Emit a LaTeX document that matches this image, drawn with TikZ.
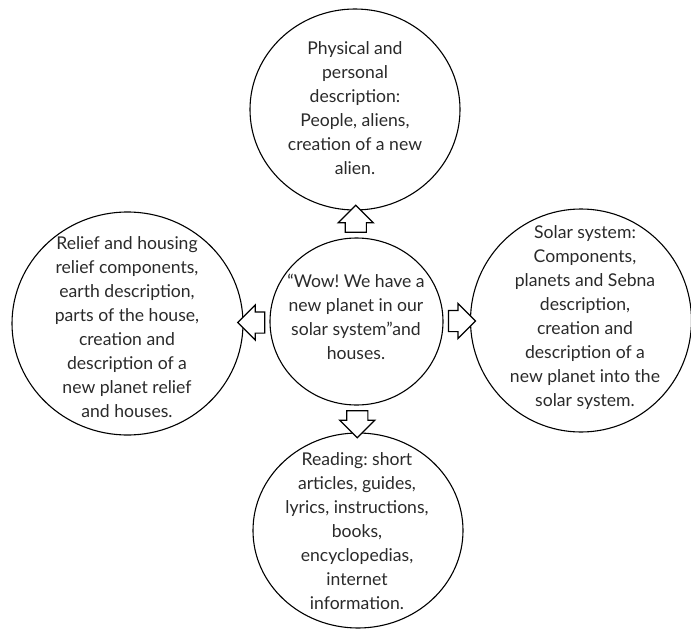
\documentclass[tikz,border=0pt]{standalone}
\usepackage{fontspec}
\setmainfont{Lato}
\frenchspacing
\usetikzlibrary{shapes.geometric,shapes.arrows,calc}
\definecolor{txt}{HTML}{2A2A2A}
\begin{document}
\begin{tikzpicture}[x=1pt,y=-1pt,
  bubble/.style={ellipse,draw=black,line width=1.1pt,inner sep=0pt},
  label/.style={align=center,text=txt,inner sep=0pt,font=\fontsize{17.6}{24}\selectfont},
  blockarrow/.style={single arrow,draw=black,line width=1.2pt,fill=white,
    inner xsep=0pt,inner ysep=10pt,single arrow head extend=7pt,
    single arrow tip angle=90,minimum height=27pt}]
\useasboundingbox (0,0) rectangle (691,632);
\clip (0,0) rectangle (691,632);
% circles
\node[bubble,minimum width=210pt,minimum height=201pt] (t) at (355,109.5) {};
\node[bubble,minimum width=173pt,minimum height=167pt] (c) at (356.5,321.5) {};
\node[bubble,minimum width=231pt,minimum height=223pt] (l) at (127.5,323.5) {};
\node[bubble,minimum width=221pt,minimum height=223pt] (r) at (581,320.5) {};
\node[bubble,minimum width=210pt,minimum height=195pt] (b) at (358,530.5) {};
% texts
\node[label] (tt) at (355,108) {Physical and\\personal\\description:\\People, aliens,\\creation of a new\\alien.};
\node[label] (ct) at (356,316.5) {“Wow! We have a\\new planet in our\\solar system”and\\houses.};
\node[label] (lt) at (127,327) {Relief and housing\\relief components,\\earth description,\\parts of the house,\\creation and\\description of a\\new planet relief\\and houses.};
\node[label] (rt) at (585,318) {Solar system:\\Components,\\planets and Sebna\\description,\\creation and\\description of a\\new planet into the\\solar system.};
\node[label] (bt) at (357,531) {Reading: short\\articles, guides,\\lyrics, instructions,\\books,\\encyclopedias,\\internet\\information.};
% block arrows
\node[blockarrow,rotate=90] (aup) at ($(c.north)!0.5!(t.south)$) {};
\node[blockarrow,rotate=180] (aleft) at ($(c.west)!0.5!(l.east)$) {};
\node[blockarrow] (aright) at ($(c.east)!0.5!(r.west)$) {};
\node[blockarrow,rotate=-90] (adown) at ($(c.south)!0.5!(b.north)$) {};
\end{tikzpicture}
\end{document}
